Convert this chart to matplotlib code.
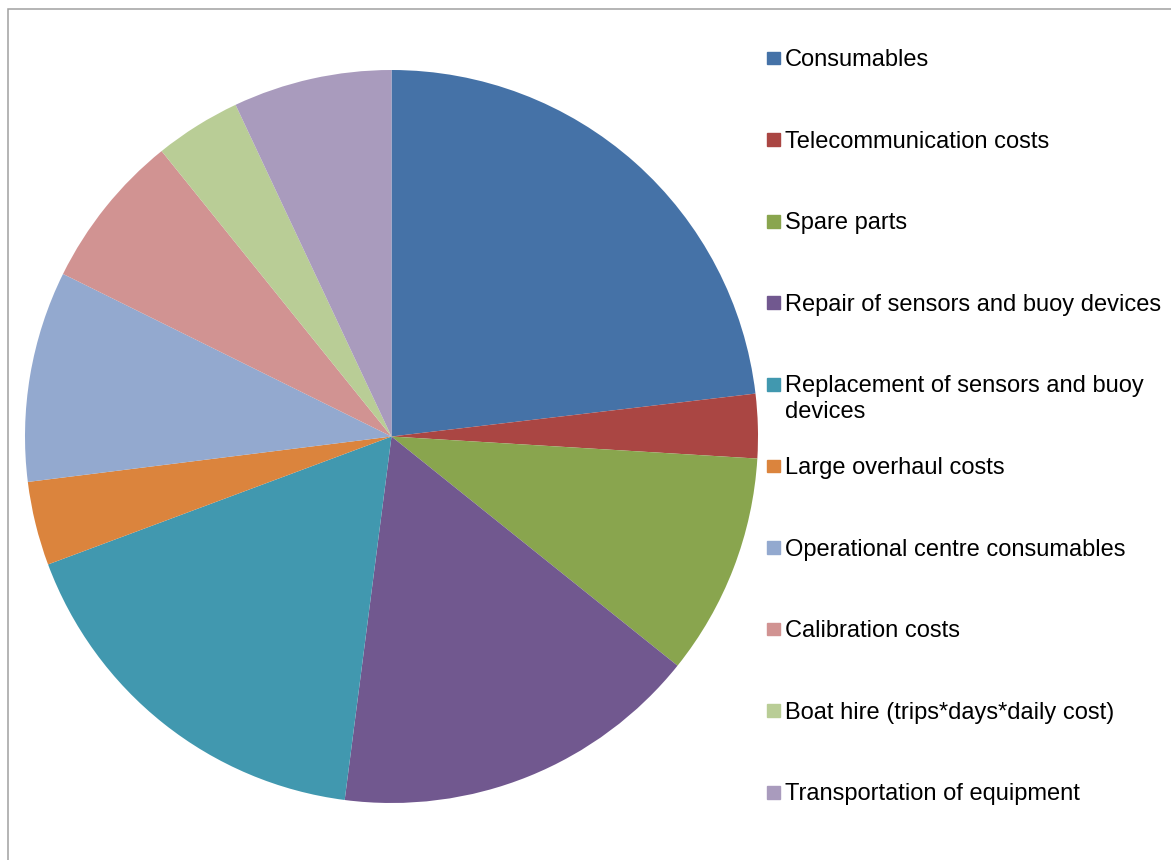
import matplotlib.pyplot as plt
from matplotlib.patches import Rectangle

plt.rcParams['font.family'] = ['Liberation Sans', 'DejaVu Sans']

categories = ['Consumables', 'Telecommunication costs', 'Spare parts',
              'Repair of sensors and buoy devices',
              'Replacement of sensors and buoy\ndevices',
              'Large overhaul costs', 'Operational centre consumables',
              'Calibration costs', 'Boat hire (trips*days*daily cost)',
              'Transportation of equipment']
shares = [23.15, 2.83, 9.8, 16.3, 17.3, 3.7, 9.3, 6.9, 3.8, 7.0]
colors = ['#4572A7', '#AA4643', '#89A54E', '#71588F', '#4198AF',
          '#DB843D', '#93A9CF', '#D19392', '#B9CD96', '#A99BBD']

W, H = 1171, 860
fig = plt.figure(figsize=(W / 100, H / 100), dpi=100)

# outer chart frame (right/bottom edges run off the canvas)
fig.patches.append(Rectangle((7.5 / W, -0.1), 1.2, 1 - 8.5 / H + 0.1,
                             transform=fig.transFigure, fill=False,
                             edgecolor='#a0a0a0', lw=1.1))

ax = fig.add_axes([25 / W, 57 / H, 733 / W, 733 / H])
ax.pie(shares, colors=colors, startangle=90, counterclock=False,
       wedgeprops=dict(linewidth=0))
ax.set_xlim(-1, 1)
ax.set_ylim(-1, 1)
ax.set_aspect('equal')
ax.axis('off')

# legend, one row per slice
x0, y0, step = 767, 58, 81.6
for i, (lab, col) in enumerate(zip(categories, colors)):
    y = y0 + i * step
    fig.patches.append(Rectangle((x0 / W, 1 - (y + 6.3) / H), 12.6 / W, 12.6 / H,
                                 transform=fig.transFigure, color=col))
    fig.text(785 / W, 1 - (y - 9) / H, lab, fontsize=17, va='top',
             ha='left', linespacing=1.22)

fig.savefig('out.png', dpi=100)
